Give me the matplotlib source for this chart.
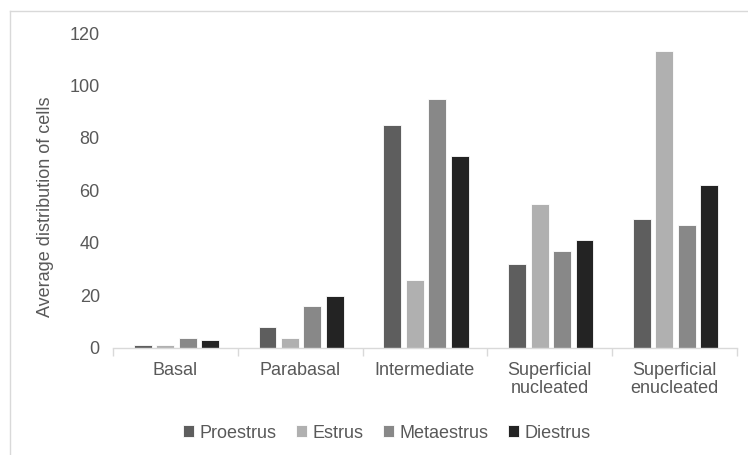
import matplotlib
matplotlib.use("Agg")
import matplotlib.pyplot as plt
from matplotlib.lines import Line2D
import numpy as np

plt.rcParams['font.family'] = ['Liberation Sans', 'DejaVu Sans']

categories = ["Basal", "Parabasal", "Intermediate", "Superficial\nnucleated", "Superficial\nenucleated"]
series_names = ["Proestrus", "Estrus", "Metaestrus", "Diestrus"]
proestrus = [1, 8, 85, 32, 49]
estrus = [1, 4, 26, 55, 113]
metaestrus = [4, 16, 95, 37, 47]
diestrus = [3, 20, 73, 41, 62]
series_values = [proestrus, estrus, metaestrus, diestrus]
colors = ["#5e5e5e", "#b0b0b0", "#888888", "#232323"]
yticks = [0, 20, 40, 60, 80, 100, 120]

W, H = 748, 455
text_color = "#595959"
fs = 13

fig = plt.figure(figsize=(W / 100, H / 100), dpi=100)
ax = fig.add_axes([113 / W, 1 - 348 / H, (737 - 113) / W, (348 - 33) / H])

x = np.arange(len(categories))
step = 0.18
width = 0.144
for i, (name, vals, c) in enumerate(zip(series_names, series_values, colors)):
    ax.bar(x + (i - 1.5) * step + 0.008, vals, width=width, color=c, label=name,
           edgecolor='white', linewidth=0.6)

ax.set_xlim(-0.5, len(categories) - 0.5)
ax.set_ylim(0, 120)
ax.set_yticks(yticks)
ax.set_xticks(x)
ax.set_xticklabels(categories, fontsize=fs, color=text_color, linespacing=1.05)
ax.set_xticks(np.arange(-0.5, len(categories), 1.0), minor=True)
ax.tick_params(axis='x', which='major', length=0, pad=10)
ax.tick_params(axis='x', which='minor', length=6, color="#d9d9d9", width=1)
ax.tick_params(axis='y', length=0, labelsize=fs, labelcolor=text_color, pad=9.5)

for s in ['top', 'right', 'left']:
    ax.spines[s].set_visible(False)
ax.spines['bottom'].set_color("#d9d9d9")
ax.spines['bottom'].set_linewidth(1)

fig.text(46 / W, 1 - 207 / H, "Average distribution of cells", rotation=90,
         ha='center', va='center', fontsize=fs, color=text_color)

fig.legend(loc='center', bbox_to_anchor=(387 / W, 1 - 433 / H), ncol=4, frameon=False,
           handlelength=0.6, handleheight=0.6, handletextpad=0.3, columnspacing=1.1,
           fontsize=fs, labelcolor=text_color)

# chart area border (left and top edges)
fig.add_artist(Line2D([9.5 / W, 9.5 / W], [0, 1 - 11 / H], transform=fig.transFigure,
                      color="#d9d9d9", linewidth=1))
fig.add_artist(Line2D([9.5 / W, 1], [1 - 11 / H, 1 - 11 / H], transform=fig.transFigure,
                      color="#d9d9d9", linewidth=1))

fig.savefig("out.png", dpi=100)
